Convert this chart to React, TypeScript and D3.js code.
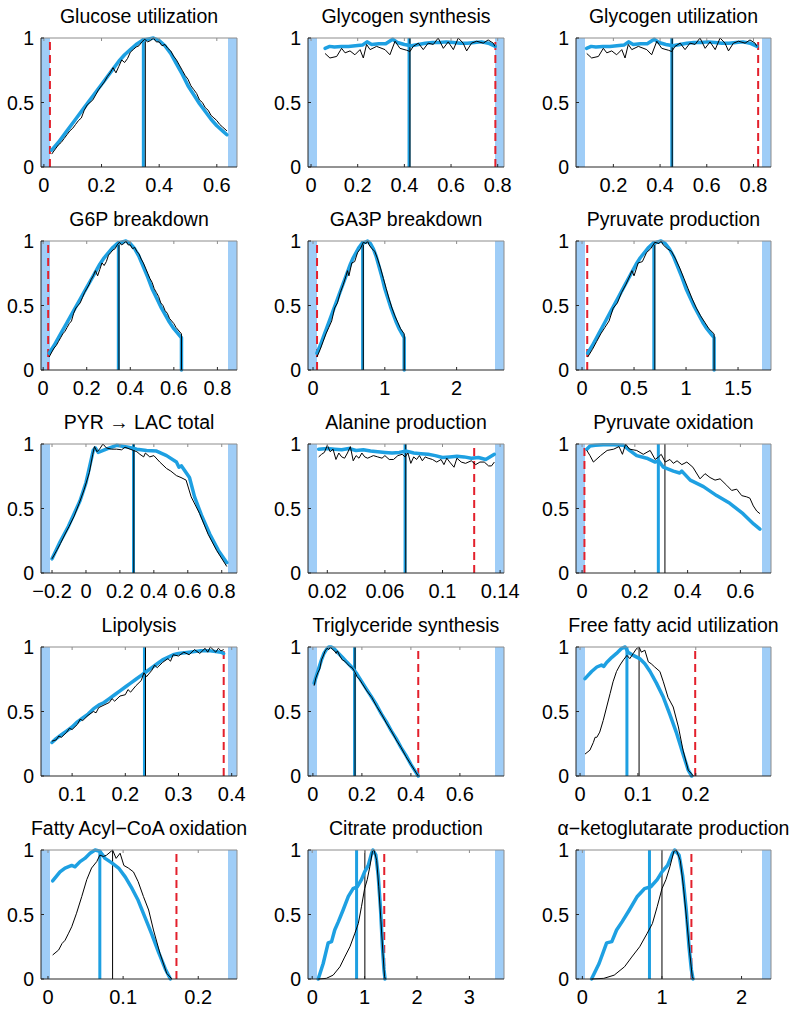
import React from 'react';
import * as d3 from 'd3';

type Pt = [number, number];

// ---------- data ----------
const titles = [
  'Glucose utilization', 'Glycogen synthesis', 'Glycogen utilization',
  'G6P breakdown', 'GA3P breakdown', 'Pyruvate production',
  'PYR \u2192 LAC total', 'Alanine production', 'Pyruvate oxidation',
  'Lipolysis', 'Triglyceride synthesis', 'Free fatty acid utilization',
  'Fatty Acyl\u2212CoA oxidation', 'Citrate production', '\u03b1\u2212ketoglutarate production',
];

const xDomains: [number, number][] = [
  [-0.01, 0.67], [-0.013, 0.827], [0.04, 0.875],
  [-0.01, 0.89], [-0.07, 2.66], [-0.058, 1.817],
  [-0.265, 0.89], [0.0066, 0.1427], [-0.023, 0.716],
  [0.0415, 0.41], [-0.02, 0.78], [-0.007, 0.33],
  [-0.0093, 0.2516], [-0.08, 3.66], [-0.08, 2.37],
];

const xTicks: number[][] = [
  [0, 0.2, 0.4, 0.6], [0, 0.2, 0.4, 0.6, 0.8], [0.2, 0.4, 0.6, 0.8],
  [0, 0.2, 0.4, 0.6, 0.8], [0, 1, 2], [0, 0.5, 1, 1.5],
  [-0.2, 0, 0.2, 0.4, 0.6, 0.8], [0.02, 0.06, 0.1, 0.14], [0, 0.2, 0.4, 0.6],
  [0.1, 0.2, 0.3, 0.4], [0, 0.2, 0.4, 0.6], [0, 0.1, 0.2],
  [0, 0.1, 0.2], [0, 1, 2, 3], [0, 1, 2],
];

const yTicks = [0, 0.5, 1];
const yTickLabels = ['0', '0.5', '1'];

// red dashed threshold (null = none)
const redLines: (number | null)[] = [
  0.021, 0.79, 0.82,
  0.023, 0.056, 0.05,
  null, 0.122, 0.009,
  0.385, 0.43, 0.199,
  0.171, 1.375, 1.37,
];
const blueMarks = [0.345, 0.42, 0.45, 0.345, 0.69, 0.69, 0.28, 0.074, 0.289, 0.236, 0.17, 0.081, 0.069, 0.847, 0.843];
const blackMarks = [0.352, 0.424, 0.452, 0.348, 0.70, 0.70, 0.282, 0.0745, 0.314, 0.238, 0.172, 0.102, 0.086, 1.005, 1.0];

const glucoseBlue: Pt[] = [[0.027,0.13],[0.05,0.19],[0.08,0.28],[0.11,0.37],[0.14,0.46],[0.17,0.55],[0.2,0.64],[0.23,0.73],[0.26,0.82],[0.28,0.87],[0.3,0.91],[0.32,0.95],[0.34,0.98],[0.36,0.99],[0.38,1.0],[0.4,0.98],[0.42,0.94],[0.44,0.88],[0.46,0.8],[0.48,0.72],[0.5,0.63],[0.52,0.56],[0.54,0.49],[0.56,0.43],[0.58,0.37],[0.6,0.32],[0.62,0.28],[0.635,0.25]];
const glucoseBlack: Pt[] = [[0.027,0.1],[0.04,0.14],[0.05,0.17],[0.06,0.19],[0.07,0.22],[0.08,0.25],[0.09,0.28],[0.1,0.3],[0.11,0.33],[0.12,0.36],[0.13,0.38],[0.14,0.44],[0.15,0.48],[0.16,0.5],[0.17,0.52],[0.18,0.56],[0.19,0.6],[0.2,0.63],[0.21,0.66],[0.22,0.7],[0.23,0.73],[0.24,0.77],[0.25,0.73],[0.26,0.78],[0.27,0.83],[0.28,0.81],[0.29,0.84],[0.3,0.89],[0.31,0.91],[0.32,0.93],[0.33,0.94],[0.34,0.97],[0.35,0.99],[0.36,0.97],[0.37,0.98],[0.38,1.0],[0.39,0.97],[0.4,0.97],[0.41,0.94],[0.42,0.95],[0.43,0.92],[0.44,0.9],[0.45,0.86],[0.46,0.83],[0.47,0.79],[0.48,0.75],[0.49,0.71],[0.5,0.68],[0.51,0.63],[0.52,0.6],[0.53,0.57],[0.54,0.52],[0.55,0.5],[0.56,0.46],[0.57,0.44],[0.58,0.4],[0.59,0.38],[0.6,0.36],[0.61,0.33],[0.62,0.31],[0.635,0.28]];

const g6pBlue: Pt[] = [...glucoseBlue, [0.635, 0]];
const g6pBlack: Pt[] = [...glucoseBlack, [0.635, 0]];

const ga3pBlue: Pt[] = [[0.054,0.13],[0.1,0.19],[0.16,0.28],[0.22,0.37],[0.28,0.46],[0.34,0.55],[0.4,0.64],[0.46,0.73],[0.52,0.82],[0.56,0.87],[0.6,0.91],[0.64,0.95],[0.68,0.98],[0.72,0.99],[0.76,1.0],[0.8,0.98],[0.84,0.94],[0.88,0.88],[0.92,0.8],[0.96,0.72],[1.0,0.63],[1.04,0.56],[1.08,0.49],[1.12,0.43],[1.16,0.37],[1.2,0.32],[1.24,0.28],[1.27,0.25],[1.27,0]];
const ga3pBlack: Pt[] = [[0.054,0.1],[0.1,0.16],[0.14,0.22],[0.18,0.28],[0.22,0.33],[0.26,0.38],[0.3,0.48],[0.34,0.52],[0.38,0.6],[0.42,0.66],[0.46,0.73],[0.48,0.77],[0.5,0.73],[0.54,0.83],[0.58,0.84],[0.62,0.91],[0.66,0.94],[0.7,0.99],[0.74,0.98],[0.76,1.0],[0.78,0.97],[0.82,0.94],[0.86,0.92],[0.9,0.86],[0.94,0.79],[0.98,0.71],[1.02,0.63],[1.06,0.55],[1.1,0.48],[1.14,0.42],[1.18,0.37],[1.22,0.32],[1.27,0.28],[1.27,0]];

const glySynBlue: Pt[] = [[0.06,0.92],[0.08,0.935],[0.1,0.93],[0.13,0.935],[0.16,0.935],[0.19,0.94],[0.22,0.945],[0.24,0.97],[0.26,0.95],[0.29,0.955],[0.32,0.955],[0.35,0.99],[0.37,0.965],[0.4,0.95],[0.43,0.94],[0.46,0.95],[0.49,0.96],[0.52,0.965],[0.55,0.965],[0.58,0.97],[0.61,0.965],[0.64,0.96],[0.67,0.96],[0.7,0.965],[0.73,0.97],[0.76,0.96],[0.79,0.935]];
const glySynBlack: Pt[] = [[0.06,0.88],[0.081,0.845],[0.11,0.857],[0.131,0.92],[0.146,0.885],[0.167,0.9],[0.188,0.87],[0.21,0.91],[0.224,0.845],[0.238,0.95],[0.253,0.91],[0.281,0.935],[0.317,0.91],[0.338,0.87],[0.36,0.975],[0.381,0.92],[0.41,0.905],[0.424,0.895],[0.438,0.935],[0.46,0.96],[0.481,0.91],[0.502,0.96],[0.524,0.95],[0.545,1.0],[0.567,0.92],[0.588,0.97],[0.61,0.91],[0.631,1.0],[0.652,0.96],[0.667,0.9],[0.688,0.96],[0.71,0.975],[0.738,0.96],[0.759,0.985],[0.781,0.96],[0.788,0.935]];

const glyUtBlue: Pt[] = [[0.085,0.92],[0.105,0.935],[0.125,0.93],[0.155,0.935],[0.185,0.935],[0.215,0.94],[0.245,0.945],[0.265,0.97],[0.285,0.95],[0.315,0.955],[0.345,0.955],[0.375,0.99],[0.395,0.965],[0.425,0.95],[0.455,0.94],[0.485,0.95],[0.515,0.96],[0.545,0.965],[0.575,0.965],[0.605,0.97],[0.635,0.965],[0.665,0.96],[0.695,0.96],[0.725,0.965],[0.755,0.97],[0.785,0.96],[0.815,0.935]];
const glyUtBlack: Pt[] = [[0.086,0.88],[0.107,0.845],[0.136,0.857],[0.157,0.92],[0.172,0.885],[0.193,0.9],[0.214,0.87],[0.236,0.91],[0.25,0.845],[0.264,0.95],[0.279,0.91],[0.307,0.935],[0.343,0.91],[0.364,0.87],[0.386,0.975],[0.407,0.92],[0.436,0.905],[0.45,0.895],[0.464,0.935],[0.486,0.96],[0.507,0.91],[0.528,0.96],[0.55,0.95],[0.571,1.0],[0.593,0.92],[0.614,0.97],[0.636,0.91],[0.657,1.0],[0.678,0.96],[0.693,0.9],[0.714,0.96],[0.736,0.975],[0.764,0.96],[0.785,0.985],[0.807,0.96],[0.814,0.935]];

const pyrLacBlue: Pt[] = [[-0.2,0.11],[-0.153,0.24],[-0.104,0.36],[-0.035,0.56],[0.0,0.7],[0.043,0.95],[0.055,0.97],[0.072,0.935],[0.12,0.96],[0.18,0.99],[0.25,0.975],[0.3,0.96],[0.357,0.95],[0.416,0.945],[0.475,0.91],[0.533,0.86],[0.548,0.82],[0.563,0.83],[0.61,0.74],[0.64,0.59],[0.68,0.45],[0.73,0.3],[0.78,0.175],[0.83,0.08]];
const pyrLacBlack: Pt[] = [[-0.2,0.11],[-0.17,0.18],[-0.15,0.23],[-0.12,0.31],[-0.1,0.36],[-0.07,0.44],[-0.04,0.54],[-0.01,0.65],[0.02,0.78],[0.04,0.92],[0.05,0.98],[0.065,0.94],[0.08,0.96],[0.1,1.0],[0.12,0.97],[0.15,0.96],[0.18,0.96],[0.21,0.955],[0.23,0.975],[0.26,0.96],[0.28,0.95],[0.3,0.94],[0.318,0.92],[0.34,0.9],[0.35,0.93],[0.376,0.9],[0.4,0.91],[0.435,0.86],[0.475,0.81],[0.5,0.79],[0.533,0.755],[0.56,0.74],[0.59,0.72],[0.62,0.59],[0.67,0.46],[0.72,0.3],[0.77,0.175],[0.83,0.05]];

const alanineBlue: Pt[] = [[0.014,0.96],[0.02,0.965],[0.025,0.96],[0.03,0.955],[0.035,0.965],[0.04,0.95],[0.045,0.955],[0.05,0.945],[0.055,0.94],[0.06,0.935],[0.065,0.93],[0.07,0.935],[0.075,0.945],[0.08,0.93],[0.085,0.925],[0.09,0.92],[0.095,0.91],[0.1,0.895],[0.105,0.9],[0.11,0.905],[0.115,0.9],[0.12,0.89],[0.125,0.895],[0.13,0.88],[0.136,0.92]];
const alanineBlack: Pt[] = [[0.014,0.9],[0.016,0.92],[0.018,0.935],[0.02,0.99],[0.022,0.94],[0.024,0.96],[0.026,0.88],[0.028,0.93],[0.03,0.9],[0.032,0.89],[0.034,0.93],[0.036,0.98],[0.038,0.87],[0.04,0.91],[0.042,0.89],[0.044,0.93],[0.046,0.9],[0.048,0.89],[0.05,0.9],[0.052,0.91],[0.055,0.9],[0.058,0.89],[0.06,0.91],[0.063,0.88],[0.066,0.88],[0.069,0.91],[0.072,0.92],[0.074,0.9],[0.076,0.93],[0.078,0.85],[0.08,0.9],[0.082,0.88],[0.084,0.91],[0.086,0.87],[0.088,0.9],[0.09,0.89],[0.093,0.88],[0.096,0.86],[0.099,0.88],[0.101,0.84],[0.103,0.89],[0.105,0.86],[0.108,0.82],[0.11,0.89],[0.113,0.86],[0.116,0.85],[0.12,0.87],[0.123,0.84],[0.126,0.86],[0.129,0.86],[0.132,0.83],[0.134,0.83],[0.136,0.86]];

const pyrOxBlue: Pt[] = [[0.018,0.96],[0.03,0.985],[0.05,0.99],[0.08,0.995],[0.12,0.995],[0.157,0.99],[0.18,0.95],[0.207,0.91],[0.245,0.89],[0.277,0.86],[0.29,0.87],[0.308,0.82],[0.346,0.79],[0.37,0.775],[0.378,0.79],[0.41,0.72],[0.46,0.67],[0.51,0.6],[0.56,0.54],[0.61,0.46],[0.65,0.38],[0.674,0.34]];
const pyrOxBlack: Pt[] = [[0.018,0.95],[0.03,0.91],[0.043,0.86],[0.07,0.91],[0.095,0.95],[0.12,0.96],[0.14,0.98],[0.153,0.92],[0.165,1.0],[0.18,0.96],[0.207,0.95],[0.232,0.92],[0.258,0.95],[0.277,0.88],[0.29,0.9],[0.3,0.92],[0.315,0.86],[0.333,0.88],[0.346,0.85],[0.36,0.87],[0.378,0.84],[0.397,0.86],[0.42,0.82],[0.447,0.73],[0.466,0.77],[0.485,0.74],[0.504,0.72],[0.523,0.73],[0.548,0.68],[0.567,0.64],[0.586,0.65],[0.605,0.6],[0.624,0.59],[0.636,0.58],[0.649,0.52],[0.662,0.48],[0.674,0.46]];

const lipoBlue: Pt[] = [[0.062,0.26],[0.07,0.29],[0.08,0.32],[0.09,0.35],[0.1,0.38],[0.11,0.42],[0.12,0.45],[0.13,0.48],[0.14,0.52],[0.15,0.55],[0.16,0.57],[0.17,0.6],[0.18,0.63],[0.19,0.66],[0.2,0.69],[0.21,0.72],[0.22,0.75],[0.23,0.78],[0.24,0.81],[0.25,0.84],[0.26,0.87],[0.27,0.9],[0.28,0.92],[0.29,0.94],[0.3,0.95],[0.32,0.96],[0.34,0.97],[0.36,0.97],[0.38,0.96],[0.385,0.95]];
const lipoBlack: Pt[] = [[0.062,0.27],[0.07,0.28],[0.075,0.31],[0.08,0.3],[0.09,0.34],[0.095,0.37],[0.1,0.36],[0.11,0.4],[0.115,0.44],[0.12,0.43],[0.13,0.47],[0.14,0.5],[0.145,0.49],[0.15,0.53],[0.16,0.55],[0.17,0.57],[0.175,0.6],[0.18,0.58],[0.19,0.62],[0.2,0.63],[0.205,0.67],[0.21,0.65],[0.22,0.7],[0.23,0.74],[0.235,0.8],[0.24,0.77],[0.25,0.82],[0.255,0.86],[0.26,0.84],[0.27,0.88],[0.28,0.91],[0.285,0.89],[0.29,0.94],[0.3,0.93],[0.31,0.96],[0.32,0.94],[0.33,0.98],[0.34,0.95],[0.35,0.99],[0.355,0.96],[0.36,1.0],[0.37,0.96],[0.375,0.99],[0.38,0.97],[0.385,0.98]];

const trigBlue: Pt[] = [[0.005,0.72],[0.015,0.78],[0.025,0.84],[0.035,0.9],[0.045,0.95],[0.055,0.98],[0.065,1.0],[0.075,1.0],[0.085,0.99],[0.095,0.97],[0.105,0.95],[0.12,0.92],[0.135,0.89],[0.15,0.86],[0.165,0.83],[0.18,0.79],[0.2,0.73],[0.22,0.67],[0.24,0.61],[0.26,0.55],[0.28,0.48],[0.3,0.42],[0.32,0.35],[0.34,0.29],[0.36,0.22],[0.38,0.16],[0.4,0.09],[0.42,0.03],[0.43,0]];
const trigBlack: Pt[] = [[0.005,0.7],[0.012,0.76],[0.02,0.8],[0.028,0.83],[0.035,0.9],[0.042,0.93],[0.05,0.97],[0.058,0.99],[0.065,0.98],[0.072,1.0],[0.08,0.98],[0.088,0.97],[0.095,0.95],[0.1,0.97],[0.11,0.93],[0.12,0.9],[0.13,0.89],[0.14,0.87],[0.15,0.85],[0.16,0.84],[0.17,0.81],[0.18,0.77],[0.19,0.75],[0.2,0.72],[0.22,0.66],[0.24,0.61],[0.26,0.54],[0.28,0.48],[0.3,0.41],[0.32,0.35],[0.34,0.28],[0.36,0.22],[0.38,0.15],[0.4,0.09],[0.42,0.03],[0.43,0]];

const ffaBlue: Pt[] = [[0.0086,0.755],[0.02,0.81],[0.029,0.845],[0.037,0.86],[0.041,0.85],[0.046,0.88],[0.055,0.92],[0.063,0.95],[0.072,0.99],[0.078,1.0],[0.083,0.96],[0.092,0.935],[0.103,0.91],[0.112,0.87],[0.121,0.81],[0.132,0.72],[0.144,0.61],[0.155,0.48],[0.167,0.33],[0.178,0.17],[0.187,0.045],[0.193,0]];
const ffaBlack: Pt[] = [[0.0086,0.17],[0.017,0.2],[0.023,0.26],[0.026,0.3],[0.029,0.3],[0.034,0.34],[0.04,0.43],[0.046,0.535],[0.052,0.64],[0.057,0.73],[0.063,0.81],[0.069,0.86],[0.075,0.9],[0.081,0.935],[0.086,0.91],[0.092,0.95],[0.098,0.99],[0.102,1.0],[0.106,0.96],[0.112,0.975],[0.118,0.885],[0.123,0.87],[0.129,0.845],[0.138,0.81],[0.144,0.73],[0.152,0.61],[0.161,0.535],[0.17,0.38],[0.178,0.2],[0.187,0.045],[0.196,0]];

const facoaBlue: Pt[] = [[0.0062,0.76],[0.016,0.83],[0.0227,0.86],[0.0316,0.88],[0.036,0.87],[0.0427,0.91],[0.049,0.935],[0.056,0.975],[0.0627,1.0],[0.069,0.99],[0.076,0.935],[0.085,0.9],[0.094,0.86],[0.103,0.79],[0.112,0.7],[0.12,0.61],[0.129,0.48],[0.138,0.35],[0.147,0.21],[0.156,0.08],[0.163,0]];
const facoaBlack: Pt[] = [[0.0062,0.186],[0.0142,0.225],[0.0187,0.275],[0.0227,0.3],[0.027,0.35],[0.0316,0.405],[0.038,0.51],[0.045,0.64],[0.0516,0.77],[0.058,0.86],[0.0649,0.91],[0.069,0.96],[0.0738,0.95],[0.078,0.96],[0.086,1.0],[0.0907,0.935],[0.096,0.975],[0.101,0.88],[0.107,0.86],[0.1138,0.83],[0.12,0.755],[0.127,0.64],[0.134,0.535],[0.1404,0.38],[0.149,0.2],[0.158,0.044],[0.165,0]];

const citrateBlue: Pt[] = [[0.115,0],[0.21,0.12],[0.305,0.28],[0.37,0.29],[0.43,0.38],[0.5,0.445],[0.59,0.535],[0.69,0.64],[0.78,0.7],[0.86,0.715],[0.94,0.77],[1.0,0.83],[1.07,0.88],[1.13,0.97],[1.16,1.0],[1.215,0.96],[1.26,0.8],[1.305,0.535],[1.34,0.25],[1.37,0.07],[1.39,0]];
const citrateBlack: Pt[] = [[0.115,0],[0.27,0.005],[0.4,0.03],[0.53,0.095],[0.62,0.17],[0.72,0.25],[0.815,0.355],[0.88,0.43],[0.94,0.56],[1.0,0.7],[1.05,0.77],[1.1,0.87],[1.15,0.99],[1.18,1.0],[1.23,0.92],[1.27,0.715],[1.31,0.46],[1.35,0.2],[1.38,0.02],[1.395,0]];

const blueSeries: Pt[][] = [
  glucoseBlue, glySynBlue, glyUtBlue,
  g6pBlue, ga3pBlue, ga3pBlue,
  pyrLacBlue, alanineBlue, pyrOxBlue,
  lipoBlue, trigBlue, ffaBlue,
  facoaBlue, citrateBlue, citrateBlue,
];
const blackSeries: Pt[][] = [
  glucoseBlack, glySynBlack, glyUtBlack,
  g6pBlack, ga3pBlack, ga3pBlack,
  pyrLacBlack, alanineBlack, pyrOxBlack,
  lipoBlack, trigBlack, ffaBlack,
  facoaBlack, citrateBlack, citrateBlack,
];

// ---------- layout ----------
const COL_X = [41, 308, 576];
const COL_W = [196, 196, 195];
const ROW_Y = [38, 241, 444, 647, 850];
const PH = 129;
const BAND = 9;
const FONT = "'Liberation Sans', Arial, Helvetica, sans-serif";
const BLUE = '#1ea0e2';
const BAND_FILL = '#9fcdf7';
const RED = '#e3202c';

function fmt(v: number): string {
  const s = String(v);
  return v < 0 ? '\u2212' + s.slice(1) : s;
}

function Panel({ i }: { i: number }) {
  const c = i % 3;
  const r = Math.floor(i / 3);
  const x0 = COL_X[c];
  const w = COL_W[c];
  const y0 = ROW_Y[r];
  const x = d3.scaleLinear().domain(xDomains[i]).range([x0, x0 + w]);
  const y = d3.scaleLinear().domain([0, 1]).range([y0 + PH, y0]);
  const line = d3.line<Pt>().x((d) => x(d[0])).y((d) => y(d[1]));
  const red = redLines[i];
  return (
    <g>
      <text x={x0 + w / 2} y={y0 - 15} textAnchor="middle" fontSize={19.5} fontFamily={FONT} fill="#000">
        {titles[i]}
      </text>
      <rect x={x0} y={y0} width={BAND} height={PH} fill={BAND_FILL} />
      <rect x={x0 + w - BAND} y={y0} width={BAND} height={PH} fill={BAND_FILL} />
      {red !== null && (
        <line x1={x(red)} x2={x(red)} y1={y(0)} y2={y(1)} stroke={RED} strokeWidth={2} strokeDasharray="8,5" />
      )}
      <line x1={x(blueMarks[i])} x2={x(blueMarks[i])} y1={y(0)} y2={y(1)} stroke={BLUE} strokeWidth={3} />
      <line x1={x(blackMarks[i])} x2={x(blackMarks[i])} y1={y(0)} y2={y(1)} stroke="#000" strokeWidth={1} />
      <path d={line(blueSeries[i]) || ''} fill="none" stroke={BLUE} strokeWidth={3.5} strokeLinejoin="round" strokeLinecap="round" />
      <path d={line(blackSeries[i]) || ''} fill="none" stroke="#000" strokeWidth={1} strokeLinejoin="round" />
      {/* axes box */}
      <line x1={x0} x2={x0 + w} y1={y0} y2={y0} stroke="#8c8c8c" strokeWidth={1} />
      <line x1={x0 + w} x2={x0 + w} y1={y0} y2={y0 + PH} stroke="#8c8c8c" strokeWidth={1} />
      <line x1={x0} x2={x0 + w} y1={y0 + PH} y2={y0 + PH} stroke="#262626" strokeWidth={1} />
      <line x1={x0} x2={x0} y1={y0} y2={y0 + PH} stroke="#262626" strokeWidth={1} />
      {xTicks[i].map((t) => (
        <g key={'x' + t}>
          <line x1={x(t)} x2={x(t)} y1={y0 + PH} y2={y0 + PH - 3} stroke="#262626" strokeWidth={1} />
          <line x1={x(t)} x2={x(t)} y1={y0} y2={y0 + 3} stroke="#8c8c8c" strokeWidth={1} />
          <text x={x(t)} y={y0 + PH + 24.5} textAnchor="middle" fontSize={20} fontFamily={FONT} fill="#000">
            {fmt(t)}
          </text>
        </g>
      ))}
      {yTicks.map((t, k) => (
        <g key={'y' + t}>
          <line x1={x0} x2={x0 + 3} y1={y(t)} y2={y(t)} stroke="#262626" strokeWidth={1} />
          <text x={x0 - 7} y={y(t)} dy="0.36em" textAnchor="end" fontSize={19.5} fontFamily={FONT} fill="#000">
            {yTickLabels[k]}
          </text>
        </g>
      ))}
    </g>
  );
}

export default function App() {
  return (
    <svg
      width={800}
      height={1015}
      style={{ position: 'absolute', left: 0, top: 0, background: '#fff' }}
    >
      <rect x={0} y={0} width={800} height={1015} fill="#fff" />
      {titles.map((_, i) => (
        <Panel key={i} i={i} />
      ))}
    </svg>
  );
}
